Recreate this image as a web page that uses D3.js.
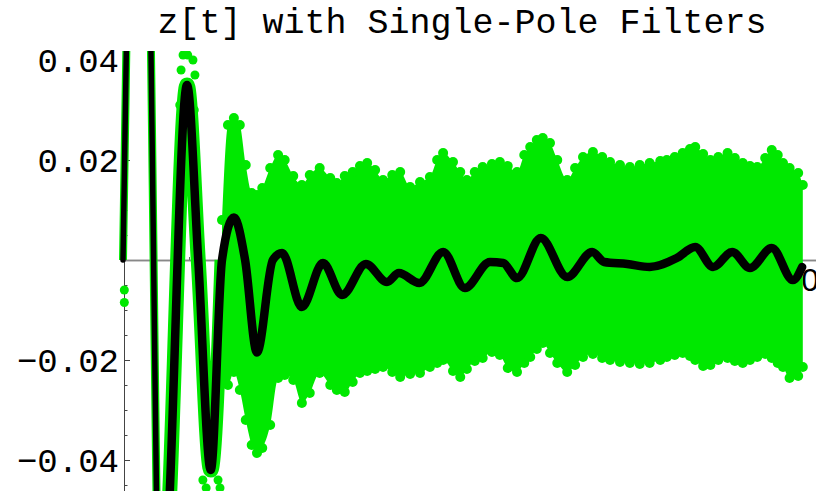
<!DOCTYPE html>
<html>
<head>
<meta charset="utf-8">
<script src="https://cdn.jsdelivr.net/npm/d3@7"></script>
<style>
  body { margin: 0; background: #fff; }
  svg { display: block; }
</style>
</head>
<body>
<div id="chart"></div>
<script>
// filtered signal (black)
const blackT = [0, 12, 24, 41, 58, 71, 97, 114, 133, 150, 168, 185, 203, 227, 241, 271, 303, 332, 368, 400,
  418, 449, 485, 518, 556, 576, 597, 633, 673, 711, 729, 764, 798, 839, 867, 894, 923, 950, 983, 1015, 1029];
const blackV = [0, 0.10, 0.19, 0.054, -0.088, -0.046, 0.035, 0, -0.042, 0, 0.0085, 0, -0.0185, 0, 0.0014, -0.0094, -0.0006, -0.007, -0.0008, -0.0044,
  -0.0026, -0.0046, 0.0016, -0.0056, -0.0004, -0.0006, -0.0036, 0.0044, -0.0034, 0.0016, -0.0004, -0.0008, -0.0014, 0.0004, 0.0026, -0.0014, 0.0016, -0.0016, 0.0024, -0.004, -0.0014];

// noisy signal (green) band: top and bottom edge of the dot cloud
const greenT = [150, 159, 168, 177, 186, 195, 203, 211, 223, 235, 245, 258, 271, 283, 298, 314, 324, 336, 348, 359,
  370, 382, 394, 408, 420, 435, 450, 465, 476, 485, 500, 511, 521, 533, 545, 559, 571, 583, 597, 608,
  617, 627, 636, 647, 658, 673, 685, 697, 712, 726, 738, 753, 768, 783, 798, 814, 824, 836, 848, 859,
  867, 879, 890, 902, 916, 927, 939, 950, 961, 973, 983, 992, 1000, 1010, 1023, 1030];
const greenHi = [0.008, 0.027, 0.0284, 0.027, 0.019, 0.0134, 0.013, 0.0144, 0.0184, 0.021, 0.020, 0.0168, 0.015, 0.017, 0.0184, 0.0164, 0.0154, 0.0168, 0.0176, 0.0188,
  0.0194, 0.018, 0.016, 0.017, 0.0176, 0.0146, 0.0156, 0.0166, 0.020, 0.0214, 0.0196, 0.0176, 0.016, 0.0176, 0.0186, 0.0192, 0.0196, 0.0188, 0.0176, 0.021,
  0.0226, 0.024, 0.0244, 0.0234, 0.020, 0.016, 0.0184, 0.0206, 0.0216, 0.0206, 0.0196, 0.019, 0.0186, 0.019, 0.0194, 0.0198, 0.020, 0.0206, 0.0214, 0.0222,
  0.0226, 0.0212, 0.020, 0.0206, 0.0214, 0.0204, 0.0194, 0.0188, 0.0186, 0.0204, 0.022, 0.021, 0.0194, 0.0184, 0.0174, 0.015];
const greenLo = [-0.024, -0.025, -0.0224, -0.026, -0.032, -0.037, -0.0386, -0.0376, -0.033, -0.0236, -0.023, -0.024, -0.0286, -0.0266, -0.0226, -0.025, -0.026, -0.0264, -0.0244, -0.0226,
  -0.0222, -0.0218, -0.0214, -0.0224, -0.0234, -0.0228, -0.0226, -0.0214, -0.0206, -0.020, -0.0222, -0.0234, -0.0218, -0.0202, -0.0196, -0.0184, -0.019, -0.0216, -0.0224, -0.0206,
  -0.0194, -0.0178, -0.0166, -0.0186, -0.0206, -0.0224, -0.021, -0.0194, -0.0188, -0.0196, -0.020, -0.0204, -0.0206, -0.0208, -0.0206, -0.020, -0.0194, -0.019, -0.0186, -0.0192,
  -0.020, -0.0212, -0.021, -0.020, -0.0196, -0.0202, -0.0206, -0.020, -0.0194, -0.0188, -0.0196, -0.0206, -0.0214, -0.0236, -0.0232, -0.0214];

// loose green dots in the first swings
const dotT = [2, 2, 86, 88, 91, 98, 106, 109, 108, 121, 126, 139, 144, 147];
const dotV = [-0.006, -0.0085, 0.031, 0.038, 0.041, 0.041, 0.040, 0.037, 0.030, -0.044, -0.0456, -0.040, -0.044, -0.0456];

const yMajor = [-0.04, -0.02, 0.02, 0.04];
const yMajorLabels = ['\u22120.04', '\u22120.02', '0.02', '0.04'];
const yMinor = [-0.045, -0.035, -0.03, -0.025, -0.015, -0.01, -0.005, 0.005, 0.01, 0.015, 0.025, 0.03, 0.035];
const xMinor = [100, 200, 300, 400, 600, 700, 800, 900];
const xMajor = [500, 1000];
const title = 'z[t] with Single-Pole Filters';

const width = 816, height = 491;
const green = '#00e800';
const mono = "'Liberation Mono', 'Courier New', monospace";

const svg = d3.select('#chart').append('svg')
  .attr('width', width)
  .attr('height', height);

const x = d3.scaleLinear().domain([0, 1050]).range([123, 816]);
const y = d3.scaleLinear().domain([-0.0462, 0.0418]).range([491, 51]);

svg.append('defs').append('clipPath').attr('id', 'plot')
  .append('rect').attr('x', 0).attr('y', y(0.0418)).attr('width', width).attr('height', height);

// axes go underneath the data, like the original
const gx = svg.append('g').attr('transform', `translate(0,${y(0)})`);
gx.call(d3.axisBottom(x).tickValues(xMinor).tickSize(-3).tickSizeOuter(0).tickFormat(''));
gx.append('g').call(d3.axisBottom(x).tickValues(xMajor).tickSize(-6).tickSizeOuter(0).tickPadding(8).tickFormat(d3.format('d')));
gx.selectAll('path.domain').attr('stroke', '#888').attr('stroke-width', 1.5);
gx.selectAll('line').attr('stroke', '#666');
gx.selectAll('text').attr('fill', '#000')
  .style('font-family', "'Liberation Sans', Arial, sans-serif").style('font-size', '32px');

const gy = svg.append('g').attr('transform', `translate(${x(0) + 1},0)`);
gy.call(d3.axisLeft(y).tickValues(yMinor).tickSize(-3.5).tickSizeOuter(0).tickFormat(''));
gy.append('g').call(d3.axisLeft(y).tickValues(yMajor).tickSize(-6).tickSizeOuter(0).tickPadding(5)
  .tickFormat((d, i) => yMajorLabels[i]));
gy.selectAll('path.domain').attr('stroke', '#444').attr('stroke-width', 1);
gy.selectAll('line').attr('stroke', '#444');
gy.selectAll('text').attr('fill', '#000').attr('dy', '0.35em')
  .style('font-family', mono).style('font-size', '34px');

const plot = svg.append('g').attr('clip-path', 'url(#plot)');

const black = blackT.map((t, i) => ({t: t, v: blackV[i]}));
const band = greenT.map((t, i) => ({t: t, hi: greenHi[i], lo: greenLo[i]}));

const line = d3.line().x(d => x(d.t)).y(d => y(d.v)).curve(d3.curveMonotoneX);

// noisy signal
plot.append('path')
  .datum(band)
  .attr('fill', green)
  .attr('d', d3.area().x(d => x(d.t)).y0(d => y(d.lo)).y1(d => y(d.hi)).curve(d3.curveMonotoneX));

// early swings: the noisy points sit right on the filtered curve
const early = [[black.filter(d => d.t <= 71), 8], [black.filter(d => d.t >= 58 && d.t <= 150), 15]];
early.forEach(([pts, w]) => {
  plot.append('path')
    .datum(pts)
    .attr('fill', 'none')
    .attr('stroke', green)
    .attr('stroke-width', w)
    .attr('stroke-linejoin', 'round')
    .attr('d', line);
});

plot.selectAll('circle.edge')
  .data(band.flatMap(d => [{t: d.t, v: d.hi}, {t: d.t, v: d.lo}]))
  .enter().append('circle')
  .attr('class', 'edge')
  .attr('cx', d => x(d.t))
  .attr('cy', d => y(d.v))
  .attr('r', 5)
  .attr('fill', green);

plot.selectAll('circle.dot')
  .data(dotT.map((t, i) => ({t: t, v: dotV[i]})))
  .enter().append('circle')
  .attr('class', 'dot')
  .attr('cx', d => x(d.t))
  .attr('cy', d => y(d.v))
  .attr('r', 4.5)
  .attr('fill', green);

// filtered signal: thinner where it is steep
const segs = [[black.filter(d => d.t <= 71), 5.5], [black.filter(d => d.t >= 58), 8.5]];
segs.forEach(([pts, w]) => {
  plot.append('path')
    .datum(pts)
    .attr('fill', 'none')
    .attr('stroke', '#000')
    .attr('stroke-width', w)
    .attr('stroke-linejoin', 'round')
    .attr('stroke-linecap', 'round')
    .attr('d', line);
});

svg.append('text')
  .attr('x', 462)
  .attr('y', 33)
  .attr('text-anchor', 'middle')
  .style('font-family', mono)
  .style('font-size', '35px')
  .text(title);
</script>
</body>
</html>
